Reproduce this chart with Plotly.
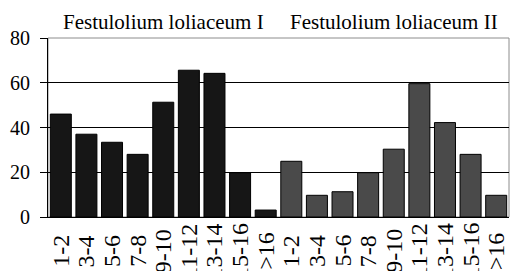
import plotly.graph_objects as go

categories = ["1-2", "3-4", "5-6", "7-8", "9-10", "11-12", "13-14", "15-16", ">16"]
series_names = ["Festulolium loliaceum I", "Festulolium loliaceum II"]
values_I = [46, 37, 33.4, 28, 51.3, 65.6, 64.2, 19.8, 3.1]
values_II = [24.9, 9.7, 11.3, 19.8, 30.3, 59.6, 42.2, 28, 9.7]
y_ticks = [0, 20, 40, 60, 80]

colors = ["#161616", "#4a4a4a"]
n = len(categories)
x_I = list(range(n))
x_II = list(range(n, 2 * n))

fig = go.Figure()
for xs, vals, col, name in [(x_I, values_I, colors[0], series_names[0]),
                            (x_II, values_II, colors[1], series_names[1])]:
    fig.add_trace(go.Bar(x=xs, y=vals, name=name, width=0.82,
                         marker=dict(color=col, line=dict(color="#000000", width=1)),
                         showlegend=False))

font_family = "Liberation Serif"

# rotated category labels, centred under each bar
for xi, lab in zip(x_I + x_II, categories + categories):
    fig.add_annotation(x=xi, xref="x", y=-0.19, yref="paper", text=lab,
                       textangle=-90, showarrow=False, xanchor="center", yanchor="middle",
                       font=dict(family=font_family, size=24, color="#000000"))

# group titles
for xs, name in [(x_I, series_names[0]), (x_II, series_names[1])]:
    fig.add_annotation(x=(xs[0] + xs[-1]) / 2, xref="x", y=1.09, yref="paper", text=name,
                       showarrow=False, xanchor="center", yanchor="middle",
                       font=dict(family=font_family, size=21, color="#000000"))

# plot border (gray) on top/right
fig.add_shape(type="rect", xref="paper", yref="paper", x0=0, x1=1, y0=0, y1=1,
              line=dict(color="#8c8c8c", width=1), layer="below")

fig.update_layout(
    width=511, height=271,
    margin=dict(l=48, r=2, t=38, b=54),
    paper_bgcolor="white", plot_bgcolor="white",
    bargap=0.18,
    font=dict(family=font_family, color="#000000"),
    xaxis=dict(range=[-0.5, 2 * n - 0.5], showticklabels=False, showgrid=False,
               zeroline=False, showline=True, linecolor="#000000", linewidth=1,
               ticks="", fixedrange=True),
    yaxis=dict(range=[0, 80], tickvals=y_ticks, showgrid=True, gridcolor="#000000",
               gridwidth=1, zeroline=False, showline=True, linecolor="#000000",
               linewidth=1, ticks="outside", ticklen=7, tickcolor="#000000",
               ticklabelstandoff=6, fixedrange=True,
               tickfont=dict(family=font_family, size=20, color="#000000")),
)

fig.write_html("out.html", config={"displayModeBar": False, "staticPlot": True},
               post_script="document.body.style.margin='0';document.body.style.overflow='hidden';")
